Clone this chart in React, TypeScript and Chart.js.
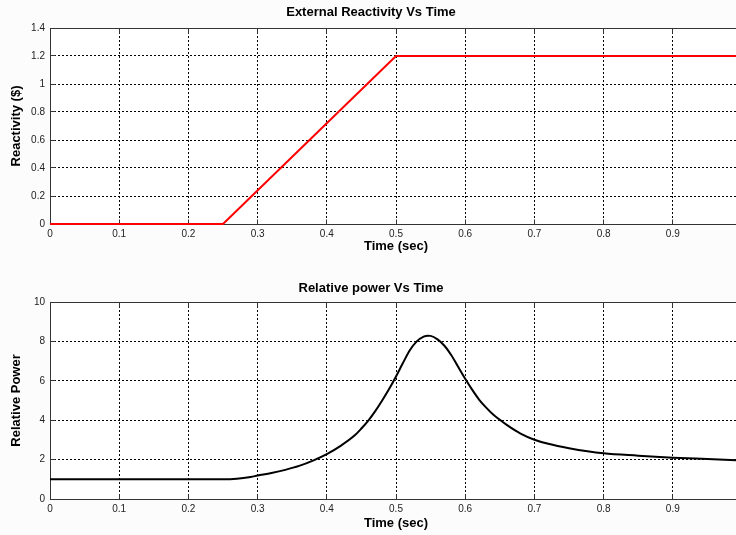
import React, { useEffect, useRef } from 'react';
import { Chart, registerables } from 'chart.js';

Chart.register(...registerables);

// ---- data ----
const timeReactivity = [0, 0.25, 0.5, 1.0];
const reactivity = [0, 0, 1.2, 1.2];

const timePower = [0, 0.25, 0.27, 0.29, 0.3, 0.32, 0.34, 0.36, 0.38, 0.4, 0.42, 0.44, 0.45, 0.46, 0.47, 0.48, 0.49, 0.5, 0.51, 0.52, 0.53, 0.54, 0.546, 0.55, 0.56, 0.57, 0.58, 0.59, 0.6, 0.61, 0.62, 0.63, 0.64, 0.65, 0.66, 0.68, 0.7, 0.72, 0.75, 0.8, 0.85, 0.9, 0.95, 1.0];
const relativePower = [1.0, 1.0, 1.03, 1.12, 1.19, 1.32, 1.48, 1.68, 1.95, 2.28, 2.7, 3.22, 3.58, 3.98, 4.46, 5.0, 5.58, 6.22, 6.9, 7.55, 8.0, 8.24, 8.29, 8.28, 8.1, 7.78, 7.3, 6.7, 6.1, 5.55, 5.05, 4.65, 4.3, 4.02, 3.76, 3.32, 3.01, 2.8, 2.58, 2.32, 2.2, 2.1, 2.03, 1.96];

const timeTicks = [0, 0.1, 0.2, 0.3, 0.4, 0.5, 0.6, 0.7, 0.8, 0.9, 1];
const reactivityTicks = [0, 0.2, 0.4, 0.6, 0.8, 1, 1.2, 1.4];
const powerTicks = [0, 2, 4, 6, 8, 10];

const FONT = '"Liberation Sans", Arial, Helvetica, sans-serif';

const align = (p: number) => Math.round(p - 0.5) + 0.5;

const framePlugin = {
  id: 'frame',
  beforeDraw(chart: any) {
    const { ctx, chartArea } = chart;
    const { left, top, right, bottom } = chartArea;
    ctx.save();
    ctx.fillStyle = '#ffffff';
    ctx.fillRect(left, top, right - left, bottom - top);
    ctx.restore();
  },
  beforeDatasetsDraw(chart: any) {
    const { ctx, chartArea, scales } = chart;
    const { left, top, right, bottom } = chartArea;
    const L = align(left);
    const T = align(top);
    const R = align(right);
    const B = align(bottom);
    ctx.save();
    ctx.strokeStyle = '#333333';
    ctx.lineWidth = 1;
    ctx.setLineDash([]);
    ctx.strokeRect(L, T, R - L, B - T);
    ctx.beginPath();
    scales.x.ticks.forEach((t: any) => {
      const px = align(scales.x.getPixelForValue(t.value));
      ctx.moveTo(px, B);
      ctx.lineTo(px, B - 5);
      ctx.moveTo(px, T);
      ctx.lineTo(px, T + 5);
    });
    scales.y.ticks.forEach((t: any) => {
      const py = align(scales.y.getPixelForValue(t.value));
      ctx.moveTo(L, py);
      ctx.lineTo(L + 5, py);
      ctx.moveTo(R, py);
      ctx.lineTo(R - 5, py);
    });
    ctx.stroke();
    ctx.restore();
  },
};

function fmt(v: number) {
  return String(Math.round(v * 10) / 10);
}

function makeConfig(opts: {
  title: string;
  titlePad: { top: number; bottom: number };
  yTitle: string;
  xs: number[];
  ys: number[];
  color: string;
  yTicks: number[];
  yMax: number;
  xScaleHeight: number;
  xTitlePadBottom: number;
  smooth: boolean;
}) {
  const points = opts.xs.map((x, i) => ({ x, y: opts.ys[i] }));
  return {
    type: 'line' as const,
    data: {
      datasets: [
        {
          data: points,
          borderColor: opts.color,
          backgroundColor: opts.color,
          borderWidth: 2,
          pointRadius: 0,
          tension: 0,
          cubicInterpolationMode: opts.smooth ? ('monotone' as const) : ('default' as const),
          clip: false as any,
          fill: false,
        },
      ],
    },
    options: {
      responsive: false,
      animation: false as const,
      events: [],
      layout: { padding: { left: 0, right: 18, top: 0, bottom: 0 } },
      plugins: {
        legend: { display: false },
        tooltip: { enabled: false },
        title: {
          display: true,
          text: opts.title,
          color: '#000',
          font: { family: FONT, size: 13, weight: 'bold' as const, lineHeight: 1.2 },
          padding: opts.titlePad,
        },
      },
      scales: {
        x: {
          type: 'linear' as const,
          min: 0,
          max: 1,
          afterBuildTicks: (scale: any) => {
            scale.ticks = timeTicks.map((v) => ({ value: v }));
          },
          afterFit: (scale: any) => {
            scale.height = opts.xScaleHeight;
          },
          ticks: {
            autoSkip: false,
            maxRotation: 0,
            padding: 4,
            color: '#222',
            font: { family: FONT, size: 10 },
            callback: (v: any) => fmt(Number(v)),
          },
          grid: { color: '#000', lineWidth: 1, drawTicks: false, borderDash: [2, 2] },
          border: { display: false, dash: [2, 2] },
          title: {
            display: true,
            text: 'Time (sec)',
            color: '#000',
            font: { family: FONT, size: 13, weight: 'bold' as const, lineHeight: 1.2 },
            padding: { top: 0, bottom: opts.xTitlePadBottom },
          },
        },
        y: {
          type: 'linear' as const,
          min: 0,
          max: opts.yMax,
          afterBuildTicks: (scale: any) => {
            scale.ticks = opts.yTicks.map((v) => ({ value: v }));
          },
          afterFit: (scale: any) => {
            scale.width = 50;
          },
          ticks: {
            autoSkip: false,
            padding: 5,
            color: '#222',
            font: { family: FONT, size: 10 },
            callback: (v: any) => fmt(Number(v)),
          },
          grid: { color: '#000', lineWidth: 1, drawTicks: false, borderDash: [2, 2] },
          border: { display: false, dash: [2, 2] },
          title: {
            display: true,
            text: opts.yTitle,
            color: '#000',
            font: { family: FONT, size: 13, weight: 'bold' as const, lineHeight: 1.2 },
            padding: { top: 8.2, bottom: 0 },
          },
        },
      },
    },
    plugins: [framePlugin],
  };
}

export default function App() {
  const topRef = useRef<HTMLCanvasElement | null>(null);
  const bottomRef = useRef<HTMLCanvasElement | null>(null);

  useEffect(() => {
    const top = new Chart(
      topRef.current as HTMLCanvasElement,
      makeConfig({
        title: 'External Reactivity Vs Time',
        titlePad: { top: 4.2, bottom: 8.2 },
        yTitle: 'Reactivity ($)',
        xs: timeReactivity,
        ys: reactivity,
        color: '#ff0000',
        yTicks: reactivityTicks,
        yMax: 1.4,
        xScaleHeight: 38,
        xTitlePadBottom: 8.2,
        smooth: false,
      }) as any
    );
    const bottom = new Chart(
      bottomRef.current as HTMLCanvasElement,
      makeConfig({
        title: 'Relative power Vs Time',
        titlePad: { top: 18.2, bottom: 6.2 },
        yTitle: 'Relative Power',
        xs: timePower,
        ys: relativePower,
        color: '#000000',
        yTicks: powerTicks,
        yMax: 10,
        xScaleHeight: 36,
        xTitlePadBottom: 4.2,
        smooth: true,
      }) as any
    );
    return () => {
      top.destroy();
      bottom.destroy();
    };
  }, []);

  return (
    <div
      style={{
        position: 'absolute',
        left: 0,
        top: 0,
        width: 736,
        height: 535,
        overflow: 'hidden',
        background: '#fcfcfc',
      }}
    >
      <canvas ref={topRef} width={760} height={262} style={{ display: 'block', position: 'absolute', left: 0, top: 0 }} />
      <canvas ref={bottomRef} width={760} height={273} style={{ display: 'block', position: 'absolute', left: 0, top: 262 }} />
    </div>
  );
}
